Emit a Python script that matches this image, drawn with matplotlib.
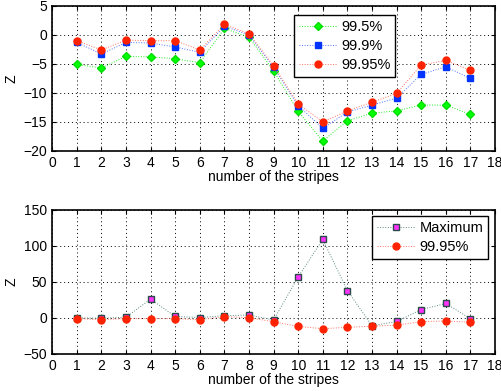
import matplotlib
matplotlib.use('Agg')
import matplotlib.pyplot as plt
import numpy as np

plt.rcParams['font.family'] = ['Liberation Sans', 'DejaVu Sans']
plt.rcParams['font.size'] = 10

# stripe numbers
stripes = np.arange(1, 18)

# Z values per confidence level
z_995 = [-5.1, -5.7, -3.7, -3.8, -4.1, -4.8, 1.1, -0.4, -6.2, -13.2, -18.3, -14.8, -13.5, -13.1, -12.1, -12.1, -13.7]
z_999 = [-1.3, -3.3, -1.3, -1.4, -2.1, -3.0, 1.5, 0.0, -5.6, -12.2, -16.1, -13.3, -12.1, -10.9, -6.8, -5.5, -7.5]
z_9995 = [-1.0, -2.6, -0.9, -1.0, -1.0, -2.6, 1.8, 0.2, -5.3, -11.9, -15.0, -13.1, -11.6, -10.1, -5.2, -4.4, -6.1]
z_max = [0.0, -0.5, 1.0, 26.0, 2.0, 0.5, 3.0, 4.0, -3.0, 57.0, 109.0, 38.0, -11.0, -5.0, 11.5, 20.0, -1.0]

fig = plt.figure(figsize=(5.02, 3.91), dpi=100)
ax1 = fig.add_axes([0.104, 0.614, 0.882, 0.371])
ax2 = fig.add_axes([0.104, 0.095, 0.882, 0.368])

# top panel
ax1.plot(stripes, z_995, ls=':', lw=0.7, color='#22ee22', marker='D', ms=4,
         mfc='#00ff00', mec='#00dd00', label='99.5%')
ax1.plot(stripes, z_999, ls=':', lw=0.7, color='#5070ff', marker='s', ms=4,
         mfc='#0033ff', mec='#0033ff', label='99.9%')
ax1.plot(stripes, z_9995, ls=':', lw=0.7, color='#ff7060', marker='o', ms=5,
         mfc='#ff2200', mec='#ff2200', label='99.95%')
ax1.set_xlim(0, 18)
ax1.set_ylim(-20, 5)
ax1.set_xticks(np.arange(0, 19))
ax1.set_yticks([-20, -15, -10, -5, 0, 5])
ax1.set_xlabel('number of the stripes', labelpad=0)
ax1.set_ylabel('Z')
leg1 = ax1.legend(loc='upper left', bbox_to_anchor=(0.545, 0.94), borderaxespad=0,
                  fancybox=False, edgecolor='black', framealpha=1, handlelength=2.6,
                  handletextpad=0.3, labelspacing=0.35, borderpad=0.35, fontsize=10.5)
leg1.get_frame().set_linewidth(1.0)

# bottom panel
ax2.plot(stripes, z_max, ls=':', lw=0.7, color='#5a8a80', marker='s', ms=4.5,
         mfc='#ff33ff', mec='#2a4a48', label='Maximum')
ax2.plot(stripes, z_9995, ls=':', lw=0.7, color='#ff7060', marker='o', ms=5,
         mfc='#ff2200', mec='#ff2200', label='99.95%')
ax2.set_xlim(0, 18)
ax2.set_ylim(-50, 150)
ax2.set_xticks(np.arange(0, 19))
ax2.set_yticks([-50, 0, 50, 100, 150])
ax2.set_xlabel('number of the stripes', labelpad=0)
ax2.set_ylabel('Z')
leg2 = ax2.legend(loc='upper right', bbox_to_anchor=(0.985, 0.96), borderaxespad=0,
                  fancybox=False, edgecolor='black', framealpha=1, handlelength=2.6,
                  handletextpad=0.3, labelspacing=0.35, borderpad=0.35, fontsize=10.5)
leg2.get_frame().set_linewidth(1.0)

for ax in (ax1, ax2):
    ax.grid(True, ls=(0, (1, 3)), color='black', lw=0.7)
    ax.tick_params(direction='in', length=3, top=True, right=True, labelsize=10)
    for s in ax.spines.values():
        s.set_linewidth(1.2)

fig.savefig('out.png', dpi=100)
